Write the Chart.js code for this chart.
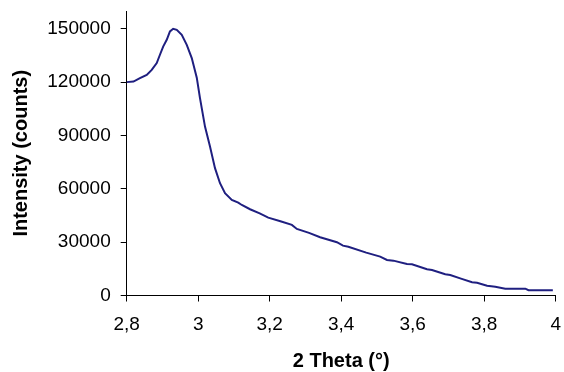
<!DOCTYPE html>
<html>
<head>
<meta charset="utf-8">
<script src="https://cdn.jsdelivr.net/npm/chart.js@4"></script>
<style>
html,body{margin:0;padding:0;background:#fff;}
#wrap{width:564px;height:372px;}
</style>
</head>
<body>
<div id="wrap"><canvas id="c" width="564" height="372"></canvas></div>
<script>
const twoTheta = [2.800,2.819,2.837,2.856,2.870,2.884,2.893,2.902,2.912,2.921,2.930,2.940,2.954,2.968,2.982,2.996,3.005,3.019,3.033,3.047,3.061,3.075,3.094,3.112,3.122,3.145,3.172,3.196,3.230,3.262,3.276,3.310,3.341,3.388,3.405,3.420,3.470,3.509,3.528,3.546,3.584,3.598,3.640,3.654,3.691,3.705,3.735,3.766,3.780,3.808,3.831,3.859,3.915,3.924,3.992];
const intensity = [120000,120300,122200,124100,126900,130700,135400,140000,143800,148500,150000,149400,146600,141000,133500,122500,111000,95000,83750,71600,63150,57500,53750,52200,50900,48500,46200,43800,41800,39700,37450,35200,32750,29950,28050,27450,24100,21850,20000,19600,17750,17550,14750,14350,11950,11550,9500,7450,7200,5500,4950,3850,3850,2950,2950];
const xTicks = [2.8,3.0,3.2,3.4,3.6,3.8,4.0];
const yTicks = [0,30000,60000,90000,120000,150000];
const xTitle = '2 Theta (°)';
const yTitle = 'Intensity (counts)';

const points = twoTheta.map((x,i)=>({x:x,y:intensity[i]}));
const FONT = "'Liberation Sans', Arial, sans-serif";

function zeroPad(s){ s.paddingTop = 0; s.paddingBottom = 0; s.paddingLeft = 0; s.paddingRight = 0; }

new Chart(document.getElementById('c'), {
  type: 'scatter',
  data: { datasets: [{
    data: points,
    showLine: true,
    borderColor: '#1f1f80',
    borderWidth: 2,
    pointRadius: 0,
    tension: 0,
    fill: false
  }]},
  options: {
    responsive: false,
    animation: false,
    devicePixelRatio: 1,
    layout: { padding: { left: 0, right: 8.3, top: 11, bottom: 0 } },
    plugins: { legend: { display: false }, tooltip: { enabled: false } },
    scales: {
      x: {
        type: 'linear', min: 2.8, max: 4.0,
        afterBuildTicks: s => { s.ticks = xTicks.map(v => ({value: v})); },
        afterFit: s => { s.height = 76.5; zeroPad(s); },
        border: { display: true, color: '#000', width: 1 },
        grid: { display: true, drawOnChartArea: false, drawTicks: true, tickLength: 6, color: '#000' },
        ticks: { color: '#000', padding: 12, maxRotation: 0, autoSkip: false,
          font: { family: FONT, size: 19 },
          callback: v => String(Math.round(v*10)/10).replace('.', ',') },
        title: { display: true, text: xTitle, color: '#000',
          font: { family: FONT, size: 20, weight: 'bold' }, padding: { top: 0, bottom: -1 } }
      },
      y: {
        type: 'linear', min: 0, max: 160000,
        afterBuildTicks: s => { s.ticks = yTicks.map(v => ({value: v})); },
        afterFit: s => { s.width = 126.7; zeroPad(s); },
        border: { display: true, color: '#000', width: 1 },
        grid: { display: true, drawOnChartArea: false, drawTicks: true, tickLength: 6, color: '#000' },
        ticks: { color: '#000', padding: 10, autoSkip: false,
          font: { family: FONT, size: 19 },
          callback: v => String(v) },
        title: { display: true, text: yTitle, color: '#000',
          font: { family: FONT, size: 20, weight: 'bold' }, padding: { top: 9.5, bottom: 0 } }
      }
    }
  }
});
</script>
</body>
</html>
